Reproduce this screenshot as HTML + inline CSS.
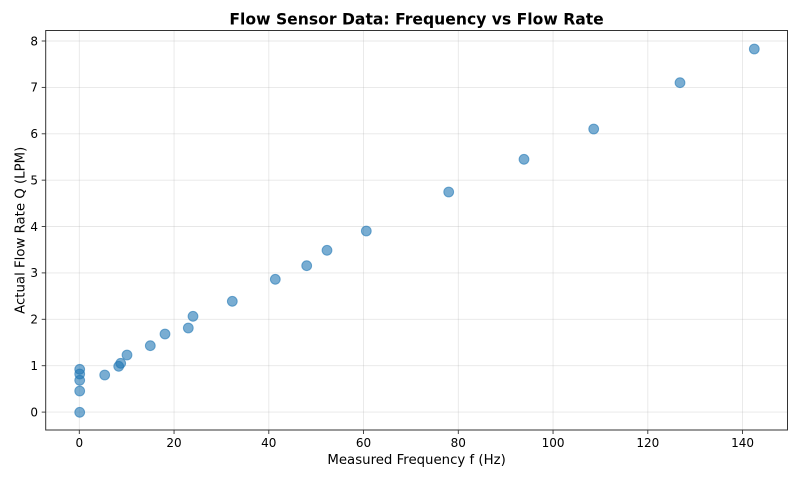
<!DOCTYPE html>
<html><head><meta charset="utf-8"><style>
html,body{margin:0;padding:0;background:#fff;}
svg{display:block;}
text{font-family:"DejaVu Sans","Liberation Sans",sans-serif;fill:#000;}
</style></head><body>
<svg width="800" height="480" viewBox="0 0 800 480" xmlns="http://www.w3.org/2000/svg">
<rect width="800" height="480" fill="#fff"/>
<!-- grid -->
<g stroke="#b0b0b0" stroke-opacity="0.3" stroke-width="0.9">
<line x1="79.3" y1="30.5" x2="79.3" y2="430"/>
<line x1="174.05" y1="30.5" x2="174.05" y2="430"/>
<line x1="268.8" y1="30.5" x2="268.8" y2="430"/>
<line x1="363.55" y1="30.5" x2="363.55" y2="430"/>
<line x1="458.3" y1="30.5" x2="458.3" y2="430"/>
<line x1="553.05" y1="30.5" x2="553.05" y2="430"/>
<line x1="647.8" y1="30.5" x2="647.8" y2="430"/>
<line x1="742.55" y1="30.5" x2="742.55" y2="430"/>
<line x1="45.7" y1="412.1" x2="787.5" y2="412.1"/>
<line x1="45.7" y1="365.7" x2="787.5" y2="365.7"/>
<line x1="45.7" y1="319.3" x2="787.5" y2="319.3"/>
<line x1="45.7" y1="272.9" x2="787.5" y2="272.9"/>
<line x1="45.7" y1="226.5" x2="787.5" y2="226.5"/>
<line x1="45.7" y1="180.15" x2="787.5" y2="180.15"/>
<line x1="45.7" y1="133.8" x2="787.5" y2="133.8"/>
<line x1="45.7" y1="87.4" x2="787.5" y2="87.4"/>
<line x1="45.7" y1="41" x2="787.5" y2="41"/>
</g>
<!-- points -->
<g fill="#1f77b4" fill-opacity="0.6" stroke="#1f77b4" stroke-opacity="0.6" stroke-width="1">
<circle cx="79.7" cy="412.3" r="4.9"/>
<circle cx="79.7" cy="391" r="4.9"/>
<circle cx="79.7" cy="380.3" r="4.9"/>
<circle cx="79.7" cy="374" r="4.9"/>
<circle cx="79.7" cy="369.3" r="4.9"/>
<circle cx="104.7" cy="375" r="4.9"/>
<circle cx="118.7" cy="366.3" r="4.9"/>
<circle cx="120.7" cy="363.3" r="4.9"/>
<circle cx="127" cy="355" r="4.9"/>
<circle cx="150.3" cy="345.7" r="4.9"/>
<circle cx="165" cy="334" r="4.9"/>
<circle cx="188.3" cy="328" r="4.9"/>
<circle cx="193" cy="316.3" r="4.9"/>
<circle cx="232.3" cy="301.3" r="4.9"/>
<circle cx="275.3" cy="279.3" r="4.9"/>
<circle cx="306.7" cy="265.7" r="4.9"/>
<circle cx="327" cy="250.3" r="4.9"/>
<circle cx="366.3" cy="231" r="4.9"/>
<circle cx="448.7" cy="192" r="4.9"/>
<circle cx="524" cy="159.3" r="4.9"/>
<circle cx="593.7" cy="129" r="4.9"/>
<circle cx="680" cy="82.7" r="4.9"/>
<circle cx="754.3" cy="49" r="4.9"/>
</g>
<!-- axes frame -->
<rect x="45.7" y="30.5" width="741.8" height="399.5" fill="none" stroke="#333" stroke-width="1"/>
<!-- ticks -->
<g stroke="#333" stroke-width="0.9">
<line x1="79.3" y1="430" x2="79.3" y2="434"/>
<line x1="174.05" y1="430" x2="174.05" y2="434"/>
<line x1="268.8" y1="430" x2="268.8" y2="434"/>
<line x1="363.55" y1="430" x2="363.55" y2="434"/>
<line x1="458.3" y1="430" x2="458.3" y2="434"/>
<line x1="553.05" y1="430" x2="553.05" y2="434"/>
<line x1="647.8" y1="430" x2="647.8" y2="434"/>
<line x1="742.55" y1="430" x2="742.55" y2="434"/>
<line x1="41.7" y1="412.1" x2="45.7" y2="412.1"/>
<line x1="41.7" y1="365.7" x2="45.7" y2="365.7"/>
<line x1="41.7" y1="319.3" x2="45.7" y2="319.3"/>
<line x1="41.7" y1="272.9" x2="45.7" y2="272.9"/>
<line x1="41.7" y1="226.5" x2="45.7" y2="226.5"/>
<line x1="41.7" y1="180.15" x2="45.7" y2="180.15"/>
<line x1="41.7" y1="133.8" x2="45.7" y2="133.8"/>
<line x1="41.7" y1="87.4" x2="45.7" y2="87.4"/>
<line x1="41.7" y1="41" x2="45.7" y2="41"/>
</g>
<g font-size="12" text-anchor="middle">
<text x="79.3" y="447">0</text>
<text x="174.05" y="447">20</text>
<text x="268.8" y="447">40</text>
<text x="363.55" y="447">60</text>
<text x="458.3" y="447">80</text>
<text x="553.05" y="447">100</text>
<text x="647.8" y="447">120</text>
<text x="742.55" y="447">140</text>
</g>
<g font-size="12" text-anchor="end">
<text x="38" y="416.4">0</text>
<text x="38" y="370">1</text>
<text x="38" y="323.6">2</text>
<text x="38" y="277.2">3</text>
<text x="38" y="230.8">4</text>
<text x="38" y="184.45">5</text>
<text x="38" y="138.1">6</text>
<text x="38" y="91.7">7</text>
<text x="38" y="45.3">8</text>
</g>
<text x="416.6" y="464" font-size="13.3" text-anchor="middle">Measured Frequency f (Hz)</text>
<text transform="translate(24.5,230.3) rotate(-90)" font-size="13.3" text-anchor="middle">Actual Flow Rate Q (LPM)</text>
<text x="416.6" y="24.3" font-size="15.6" font-weight="bold" text-anchor="middle">Flow Sensor Data: Frequency vs Flow Rate</text>
</svg>
</body></html>
